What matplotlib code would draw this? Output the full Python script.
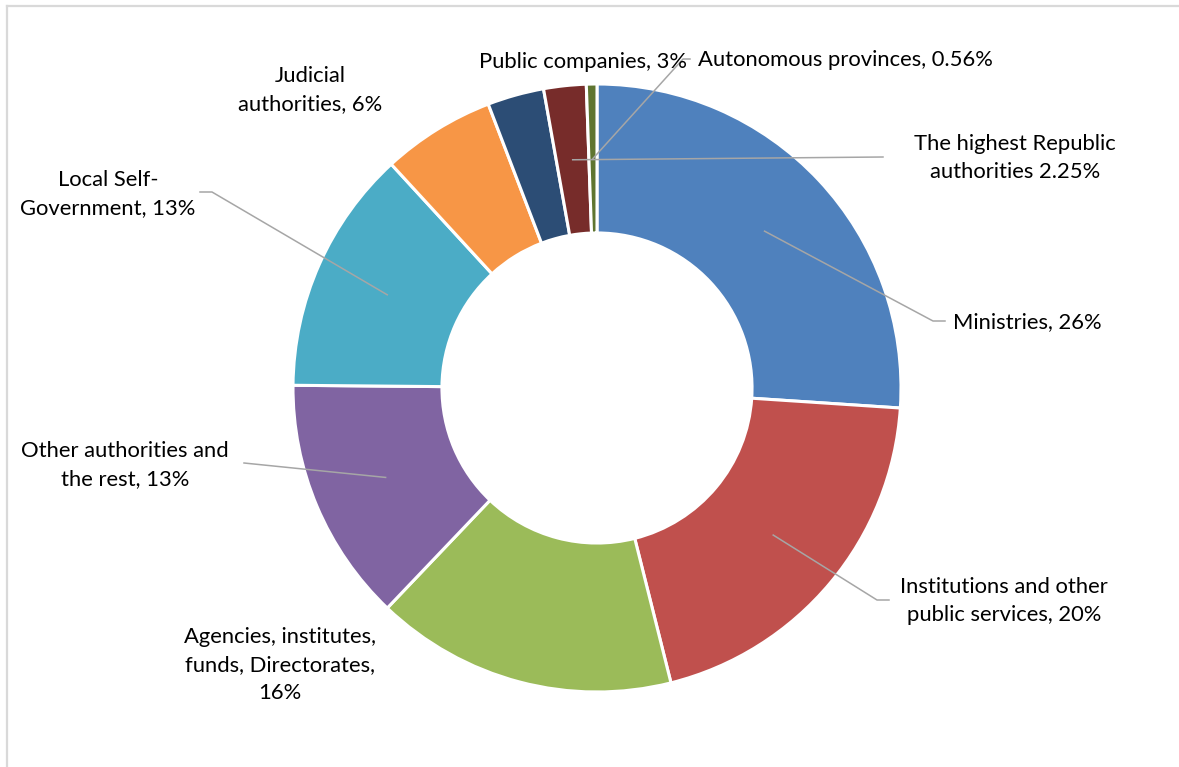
import numpy as np
import matplotlib
matplotlib.use("Agg")
import matplotlib.pyplot as plt
from matplotlib.lines import Line2D

# Share of the total, clockwise from 12 o'clock
categories = [
    "Ministries",
    "Institutions and other public services",
    "Agencies, institutes, funds, Directorates",
    "Other authorities and the rest",
    "Local Self-Government",
    "Judicial authorities",
    "Public companies",
    "The highest Republic authorities",
    "Autonomous provinces",
]
shares = [26, 20, 16, 13, 13, 6, 3, 2.25, 0.56]
labels = [
    "Ministries, 26%",
    "Institutions and other\npublic services, 20%",
    "Agencies, institutes,\nfunds, Directorates,\n16%",
    "Other authorities and\nthe rest, 13%",
    "Local Self-\nGovernment, 13%",
    "Judicial\nauthorities, 6%",
    "Public companies, 3%",
    "The highest Republic\nauthorities 2.25%",
    "Autonomous provinces, 0.56%",
]
colors = ["#4F81BD", "#C0504D", "#9BBB59", "#8064A2", "#4BACC6",
          "#F79646", "#2C4D75", "#772C2A", "#5F7530"]

W, H, DPI = 1179, 767, 100
CX, CY, R = 597, 388, 304  # pie centre and radius in pixels


def px(x, y):
    """Pixel position on the canvas -> data coordinates of the pie axes."""
    return (x - CX) / R, (CY - y) / R


# Label centres (pixels) and optional leader elbows (label end, elbow)
label_pos = [
    (1027, 322), (1004, 601), (280, 665), (125, 465), (108, 194),
    (310, 90), (583, 62), (1015, 158), (845, 60),
]
leaders = {
    0: [(945, 321), (933, 321)],
    1: [(889, 600), (877, 600)],
    3: [(244, 463)],
    4: [(200, 192), (212, 192)],
    7: [(883, 157)],
    8: [(690, 59), (683, 59)],
}

plt.rcParams["font.family"] = ["Lato", "DejaVu Sans"]

fig = plt.figure(figsize=(W / DPI, H / DPI), dpi=DPI)
ax = fig.add_axes([0, 0, 1, 1])

ring = 0.49
wedges, _ = ax.pie(
    shares, colors=colors, startangle=90, counterclock=False, radius=1.0,
    wedgeprops=dict(width=ring, edgecolor="white", linewidth=2.2),
)

x0, y1 = px(0, 0)
x1, y0 = px(W, H)
ax.set_xlim(x0, x1)
ax.set_ylim(y0, y1)
ax.set_aspect("equal")
ax.axis("off")

# Leader lines from each label to the middle of its ring segment
r_mid = 1.0 - ring / 2
for i, pts in leaders.items():
    w = wedges[i]
    ang = np.deg2rad((w.theta1 + w.theta2) / 2)
    xs = [px(*p)[0] for p in pts] + [r_mid * np.cos(ang)]
    ys = [px(*p)[1] for p in pts] + [r_mid * np.sin(ang)]
    ax.add_line(Line2D(xs, ys, color="#A6A6A6", lw=1.1, zorder=5))

for text, (lx, ly) in zip(labels, label_pos):
    tx, ty = px(lx, ly)
    ax.text(tx, ty, text, ha="center", va="center", fontsize=15.8,
            color="#000000", linespacing=1.5, zorder=6)

# Chart-area frame (top and left edges)
frame = dict(color="#D9D9D9", lw=1.6, transform=fig.transFigure)
fig.add_artist(Line2D([7.5 / W, 1], [1 - 6 / H, 1 - 6 / H], **frame))
fig.add_artist(Line2D([7.5 / W, 7.5 / W], [0, 1 - 6 / H], **frame))

fig.savefig("out.png", dpi=DPI, facecolor="white")
